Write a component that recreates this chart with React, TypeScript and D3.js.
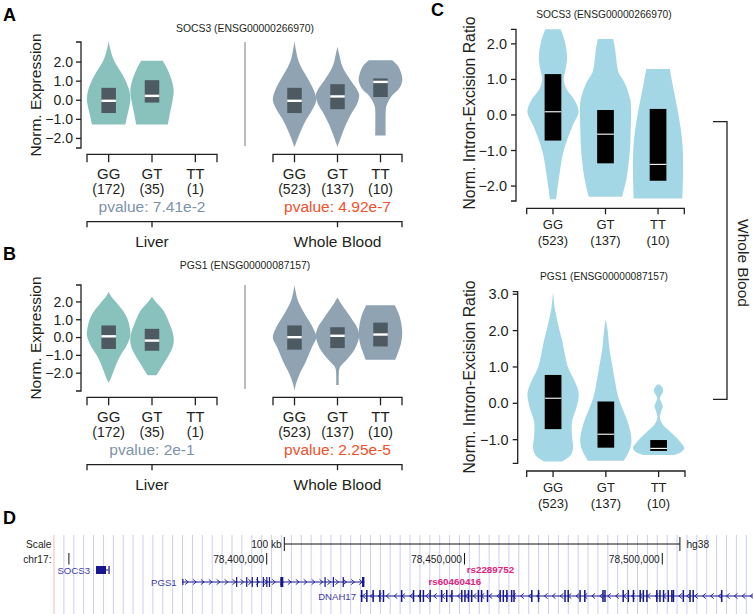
import React from "react";
import * as d3 from "d3";

type P = [number, number];
type Box = [number, number, number] | null;
const FONT = "'Liberation Sans', Arial, Helvetica, sans-serif";
const AXIS = "#231f20";

// ---------------- Panels A & B ----------------
const genotypes = ["GG", "GT", "TT"];
const tissues = ["Liver", "Whole Blood"];
const liverCounts = ["(172)", "(35)", "(1)"];
const bloodCounts = ["(523)", "(137)", "(10)"];
const exprTicks = [-2, -1, 0, 1, 2];
const socs3Title = "SOCS3 (ENSG00000266970)";
const pgs1Title = "PGS1 (ENSG00000087157)";
const socs3Pvalues = ["pvalue: 7.41e-2", "pvalue: 4.92e-7"];
const pgs1Pvalues = ["pvalue: 2e-1", "pvalue: 2.25e-5"];
const pvalueSignificant = [false, true];

// violin profiles: [value, relative half-width]
const socs3LiverViolins: (P[] | null)[] = [
  [[3.1, 0], [2.8, 0.05], [2.3, 0.17], [2.0, 0.28], [1.5, 0.55], [1.05, 0.77], [0.5, 0.95], [0, 1], [-0.7, 0.88], [-1.27, 0.77]],
  [[2.07, 0.5], [1.6, 0.72], [1.0, 0.92], [0.5, 1], [0, 0.95], [-0.55, 0.85], [-1.27, 0.73]],
  null,
];
const socs3BloodViolins: (P[] | null)[] = [
  [[3.07, 0], [2.6, 0.07], [2.1, 0.17], [1.5, 0.42], [1.0, 0.68], [0.5, 0.9], [0, 1], [-0.5, 0.82], [-1.0, 0.55], [-1.5, 0.33], [-2.0, 0.15], [-2.45, 0]],
  [[2.8, 0], [2.4, 0.08], [1.75, 0.23], [1.05, 0.6], [0.6, 0.88], [0.26, 1], [-0.2, 0.9], [-0.68, 0.65], [-1.3, 0.38], [-1.9, 0.17], [-2.45, 0]],
  [[2.1, 0.54], [1.8, 0.8], [1.3, 0.98], [1.0, 1.0], [0.6, 0.85], [0.2, 0.5], [-0.3, 0.27], [-0.6, 0.24], [-1.85, 0.24]],
];
const pgs1LiverViolins: (P[] | null)[] = [
  [[2.57, 0], [2.3, 0.12], [1.9, 0.4], [1.5, 0.66], [1.0, 0.88], [0.5, 0.98], [0.1, 1], [-0.4, 0.85], [-1.1, 0.5], [-1.9, 0.22], [-2.3, 0.1], [-2.54, 0]],
  [[2.29, 0], [2.0, 0.18], [1.5, 0.53], [0.7, 0.83], [0.2, 0.97], [-0.27, 1], [-0.7, 0.9], [-1.1, 0.72], [-1.5, 0.52], [-1.82, 0.36], [-2.12, 0.2]],
  null,
];
const pgs1BloodViolins: (P[] | null)[] = [
  [[2.95, 0], [2.6, 0.05], [2.1, 0.15], [1.35, 0.46], [0.58, 0.84], [0, 1], [-0.55, 0.8], [-1.3, 0.54], [-2.06, 0.23], [-2.6, 0.07], [-3.0, 0]],
  [[2.25, 0], [2.0, 0.12], [1.53, 0.38], [1.0, 0.68], [0.58, 0.9], [0.1, 1], [-0.55, 0.84], [-1.0, 0.6], [-1.3, 0.38], [-1.6, 0.15], [-1.8, 0.08], [-2.67, 0.06]],
  [[1.82, 0.66], [1.4, 0.82], [0.9, 0.94], [0.3, 1], [-0.3, 0.95], [-0.8, 0.82], [-1.25, 0.68]],
];
// boxes: [q1, median, q3]
const socs3LiverBoxes: Box[] = [[-0.67, -0.03, 0.65], [-0.12, 0.23, 1.05], null];
const socs3BloodBoxes: Box[] = [[-0.67, -0.03, 0.65], [-0.47, 0.2, 0.84], [0.17, 0.96, 1.14]];
const pgs1LiverBoxes: Box[] = [[-0.64, 0.07, 0.68], [-0.74, -0.17, 0.49], null];
const pgs1BloodBoxes: Box[] = [[-0.68, 0.02, 0.68], [-0.59, 0.1, 0.58], [-0.5, 0.17, 0.84]];

// ---------------- Panel C ----------------
const sqtlCounts = ["(523)", "(137)", "(10)"];
const sqtlSocs3Ticks = [-2, -1, 0, 1, 2];
const sqtlPgs1Ticks = [-1, 0, 1, 2, 3];
const sqtlSocs3Violins: P[][] = [
  [[2.41, 0.3], [2.1, 0.45], [1.64, 0.55], [1.3, 0.5], [0.99, 0.42], [0.7, 0.55], [0.44, 0.82], [0.1, 1], [-0.33, 0.75], [-1.0, 0.42], [-1.64, 0.26], [-2.1, 0.17], [-2.37, 0.12]],
  [[2.14, 0.3], [1.83, 0.38], [1.4, 0.45], [1.18, 0.52], [0.9, 0.75], [0.42, 0.97], [0, 1], [-0.5, 0.98], [-1.0, 0.95], [-1.75, 0.83], [-2.3, 0.65]],
  [[1.29, 0.46], [0.9, 0.56], [0.42, 0.69], [0, 0.8], [-0.7, 0.94], [-1.45, 0.98], [-2.35, 0.95]],
];
const sqtlPgs1Violins: P[][] = [
  [[3.07, 0], [2.7, 0.05], [2.49, 0.1], [2.1, 0.22], [1.74, 0.35], [1.0, 0.58], [0.6, 0.85], [0.28, 1], [-0.1, 0.92], [-0.5, 0.74], [-0.9, 0.74], [-1.25, 0.78], [-1.45, 0.66], [-1.6, 0.35]],
  [[2.31, 0], [2.0, 0.07], [1.5, 0.14], [1.0, 0.26], [0.6, 0.36], [0.18, 0.48], [-0.2, 0.68], [-0.55, 0.87], [-1.0, 1], [-1.3, 0.92], [-1.58, 0.7]],
  [[0.52, 0.03], [0.45, 0.14], [0.34, 0.18], [0.22, 0.1], [0.14, 0.05], [0.04, 0.1], [-0.09, 0.16], [-0.22, 0.1], [-0.41, 0.05], [-0.6, 0.18], [-0.74, 0.39], [-1.01, 0.78], [-1.24, 1], [-1.35, 0.85], [-1.42, 0.6]],
];
const sqtlSocs3Boxes: Box[] = [[-0.72, 0.09, 1.15], [-1.36, -0.54, 0.14], [-1.85, -1.39, 0.17]];
const sqtlPgs1Boxes: Box[] = [[-0.71, 0.14, 0.78], [-1.22, -0.85, 0.05], [-1.31, -1.24, -1.01]];

// ---------------- Panel D (genome browser) ----------------
const genomeOrigin = 78400000; // kb offsets below are relative to this
const trackStartKb = -53.77;
const trackEndKb = 123.0;
const guideSpacingKb = 2.5;
const positionTicks = [78350000, 78400000, 78450000, 78500000];
const scaleBarStartKb = 4.45;
const scaleBarKb = 100;
const socs3GeneKb = [-43.15, -39.94];
const socs3ExonsKb: [number, number, number][] = [[-43.15, -40.62, 1], [-40.0, -39.85, 1]];
const pgs1GeneKb = [-21.23, 24.7];
const pgs1ExonsKb: [number, number, number][] = [
  [-21.35, -21.1, 0], [-7.75, -7.45, 1], [-5.2, -4.95, 1], [-3.8, -3.5, 1], [-2.5, -2.25, 1],
  [-1.0, -0.75, 1], [-0.12, 0.12, 1], [0.55, 0.8, 1], [3.45, 4.2, 1], [14.6, 14.9, 1],
  [16.7, 17.0, 1], [19.2, 19.5, 1], [24.1, 24.7, 1],
];
const dnah17GeneKb = [23.6, 130];
const dnah17ExonCentersKb = [
  24.0, 25.3, 26.9, 28.6, 29.5, 34.1, 37.1, 38.8, 39.6, 41.3, 44.2, 45.5, 46.8, 49.3, 50.1, 51.0,
  51.8, 53.5, 54.3, 55.8, 59.0, 59.8, 60.7, 61.9, 62.5, 67.0, 68.7, 75.4, 76.2, 79.2, 80.4, 85.0,
  85.5, 90.1, 91.4, 92.7, 94.4, 95.2, 96.1, 98.6, 99.4, 100.3, 101.5, 102.4, 102.8, 105.3, 107.0,
  107.8, 115.0,
];
const snps = [
  { name: "rs2289752", kb: 63.3 },
  { name: "rs60460416", kb: 55.0 },
];

const LIVER_FILL = "#89c1bd";
const BLOOD_FILL = "#8fa3b3";
const BOX_FILL = "#4e5a61";
const SQTL_FILL = "#a3d7e6";
const PV_NS = "#7d93aa";
const PV_SIG = "#f0502b";

function violinPath(profile: P[], cx: number, y: d3.ScaleLinear<number, number>, maxW: number) {
  const area = d3
    .area<P>()
    .curve(d3.curveCatmullRom.alpha(0.5))
    .y((d) => y(d[0]))
    .x0((d) => cx - d[1] * maxW)
    .x1((d) => cx + d[1] * maxW);
  return area(profile) || "";
}

function YAxis({ x, y, ticks, tickLen = 5, fs = 13, labelGap = 3 }: any) {
  const [r0, r1] = y.range();
  return (
    <g>
      <path d={`M${x - tickLen},${r0}H${x}V${r1}H${x - tickLen}`} fill="none" stroke={AXIS} strokeWidth={1.3} />
      {ticks.map((t: number) => (
        <g key={t}>
          <line x1={x - tickLen} x2={x} y1={y(t)} y2={y(t)} stroke={AXIS} strokeWidth={1.3} />
          <text x={x - tickLen - labelGap} y={y(t)} dy="0.35em" textAnchor="end" fontSize={fs} fill={AXIS}>
            {d3.format(".1f")(t)}
          </text>
        </g>
      ))}
    </g>
  );
}

function GroupAxis({ xs, yPos, tickLen }: any) {
  const [a, b] = xs.range();
  return (
    <g>
      <path d={`M${a},${yPos + tickLen}V${yPos}H${b}V${yPos + tickLen}`} fill="none" stroke={AXIS} strokeWidth={1.3} />
      {genotypes.map((g) => {
        const cx = xs(g) + xs.bandwidth() / 2;
        return <line key={g} x1={cx} x2={cx} y1={yPos} y2={yPos + tickLen} stroke={AXIS} strokeWidth={1.3} />;
      })}
    </g>
  );
}

function ExprPanel(props: any) {
  const { dy, letter, letterY, title, titleY, domain, liverV, bloodV, liverB, bloodB, pvals } = props;
  const y = d3.scaleLinear().domain(domain).range([148 + dy, 42 + dy]);
  const xL = d3.scaleBand().domain(genotypes).range([87, 217]);
  const xB = d3.scaleBand().domain(genotypes).range([273, 402]);
  const maxW = 21.7;
  const boxW = 14.5;
  const groups = [
    { xs: xL, v: liverV, b: liverB, fill: LIVER_FILL, counts: liverCounts },
    { xs: xB, v: bloodV, b: bloodB, fill: BLOOD_FILL, counts: bloodCounts },
  ];
  const centers = groups.map((g) => (g.xs.range()[0] + g.xs.range()[1]) / 2);
  const brY = 221.7 + dy;
  return (
    <g>
      <text x={3} y={letterY} fontSize={18} fontWeight="bold" fill="#000">{letter}</text>
      <text x={245} y={titleY} textAnchor="middle" fontSize={10.4} fill={AXIS}>{title}</text>
      <text transform={`translate(40.5,${95 + dy}) rotate(-90)`} textAnchor="middle" fontSize={15.5} fill={AXIS}>
        Norm. Expression
      </text>
      <YAxis x={81} y={y} ticks={exprTicks} fs={14} />
      <line x1={245} x2={245} y1={42 + dy} y2={146 + dy} stroke="#9a9a9a" strokeWidth={1.3} />
      {groups.map((grp, gi) => (
        <g key={gi}>
          {genotypes.map((g, i) => {
            const cx = grp.xs(g)! + grp.xs.bandwidth() / 2;
            const prof = grp.v[i];
            const box = grp.b[i];
            return (
              <g key={g}>
                {prof && <path d={violinPath(prof, cx, y, maxW)} fill={grp.fill} />}
                {box && (
                  <g>
                    <rect x={cx - boxW / 2} width={boxW} y={y(box[2])} height={y(box[0]) - y(box[2])} fill={BOX_FILL} />
                    <line x1={cx - boxW / 2} x2={cx + boxW / 2} y1={y(box[1])} y2={y(box[1])} stroke="#fff" strokeWidth={2.4} />
                  </g>
                )}
                <text x={cx} y={178.5 + dy} textAnchor="middle" fontSize={15} fill={AXIS}>{g}</text>
                <text x={cx} y={194 + dy} textAnchor="middle" fontSize={14} fill={AXIS}>{grp.counts[i]}</text>
              </g>
            );
          })}
          <GroupAxis xs={grp.xs} yPos={154.3 + dy} tickLen={8} />
          <text x={centers[gi]} y={212 + dy} textAnchor="middle" fontSize={15.5} fill={pvalueSignificant[gi] ? PV_SIG : PV_NS}>
            {pvals[gi]}
          </text>
          <text x={centers[gi]} y={246.5 + dy} textAnchor="middle" fontSize={15.5} fill={AXIS}>{tissues[gi]}</text>
        </g>
      ))}
      <path d={`M87,${brY + 5.5}V${brY}H402V${brY + 5.5}`} fill="none" stroke={AXIS} strokeWidth={1.3} />
      {centers.map((c, i) => (
        <line key={i} x1={c} x2={c} y1={brY} y2={brY + 5.5} stroke={AXIS} strokeWidth={1.3} />
      ))}
    </g>
  );
}

function SqtlPanel(props: any) {
  const { title, titleY, axisX, yRange, domain, ticks, xRange, xAxisY, violins, boxes, labelY, yLabelY } = props;
  const y = d3.scaleLinear().domain(domain).range(yRange);
  const xs = d3.scaleBand().domain(genotypes).range(xRange);
  const maxW = 25.6;
  const boxW = 16.7;
  return (
    <g>
      <text x={604} y={titleY} textAnchor="middle" fontSize={10.2} fill={AXIS}>{title}</text>
      <text transform={`translate(475,${yLabelY}) rotate(-90)`} textAnchor="middle" fontSize={15.8} fill={AXIS}>
        Norm. Intron-Excision Ratio
      </text>
      {genotypes.map((g, i) => {
        const cx = xs(g)! + xs.bandwidth() / 2;
        const box = boxes[i];
        return (
          <g key={g}>
            <path d={violinPath(violins[i], cx, y, maxW)} fill={SQTL_FILL} />
            {box && (
              <g>
                <rect x={cx - boxW / 2} width={boxW} y={y(box[2])} height={y(box[0]) - y(box[2])} fill="#000" />
                <line x1={cx - boxW / 2} x2={cx + boxW / 2} y1={y(box[1])} y2={y(box[1])} stroke="#fff" strokeWidth={1.1} />
              </g>
            )}
            <text x={cx} y={labelY} textAnchor="middle" fontSize={13} fill={AXIS}>{g}</text>
            <text x={cx} y={labelY + 15.5} textAnchor="middle" fontSize={13} fill={AXIS}>{sqtlCounts[i]}</text>
          </g>
        );
      })}
      <YAxis x={axisX} y={y} ticks={ticks} tickLen={5} fs={14.5} labelGap={4} />
      <GroupAxis xs={xs} yPos={xAxisY} tickLen={6} />
    </g>
  );
}

function BrowserPanel() {
  const gx = d3
    .scaleLinear()
    .domain([78350000, 78500000])
    .range([68.9, 662.3]);
  const kx = (kb: number) => gx(genomeOrigin + kb * 1000);
  const left = kx(trackStartKb);
  const guides = d3.range(trackStartKb, trackEndKb, guideSpacingKb);
  const fmt = d3.format(",");
  const geneColor = "#161690";
  const labelColor = "#3c3ca4";
  const chevrons = (g: number[], dir: number, yy: number) =>
    d3.range(g[0] + 1, Math.min(g[1], trackEndKb), 2).map((k) => {
      const x = kx(k);
      return (
        <path key={k} d={`M${x - 1.6 * dir},${yy - 2.6}L${x + 1.6 * dir},${yy}L${x - 1.6 * dir},${yy + 2.6}`} fill="none" stroke={geneColor} strokeWidth={0.9} />
      );
    });
  const sbA = kx(scaleBarStartKb);
  const sbB = kx(scaleBarStartKb + scaleBarKb);
  const pgsY = 582;
  const dnaY = 596;
  const socY = 570;
  return (
    <g>
      <text x={3} y={524} fontSize={18} fontWeight="bold" fill="#000">D</text>
      <defs>
        <clipPath id="trackClip">
          <rect x={left} y={530} width={753 - left} height={90} />
        </clipPath>
      </defs>
      {guides.map((k, i) => (
        <line key={k} x1={kx(k)} x2={kx(k)} y1={535} y2={614} stroke={i === 0 ? "#f3b9c9" : "#cdcdf3"} strokeWidth={1} />
      ))}
      <text x={51.5} y={547.5} textAnchor="end" fontSize={10.2} fill="#222">Scale</text>
      <text x={51.5} y={563} textAnchor="end" fontSize={10.2} fill="#222">chr17:</text>
      <path d={`M${sbA},537V551M${sbA},544H${sbB}M${sbB},537V551`} stroke="#111" strokeWidth={1} fill="none" />
      <text x={sbA - 2.5} y={547.5} textAnchor="end" fontSize={10.2} fill="#222">{`${scaleBarKb} kb`}</text>
      <text x={sbB + 6.5} y={547.5} fontSize={10.2} fill="#222">hg38</text>
      {positionTicks.map((p) => {
        const x = gx(p);
        return (
          <g key={p}>
            <line x1={x} x2={x} y1={553} y2={564.5} stroke="#111" strokeWidth={1} />
            {x - 55 > left && (
              <text x={x - 2.5} y={563} textAnchor="end" fontSize={10.2} fill="#222">{fmt(p)}</text>
            )}
          </g>
        );
      })}
      {/* SOCS3 */}
      <text x={kx(socs3GeneKb[0]) - 6} y={socY + 3.5} textAnchor="end" fontSize={9.6} fill={labelColor}>SOCS3</text>
      <line x1={kx(socs3GeneKb[0])} x2={kx(socs3GeneKb[1])} y1={socY} y2={socY} stroke={geneColor} strokeWidth={1} />
      {socs3ExonsKb.map((e, i) => (
        <rect key={i} x={kx(e[0])} y={socY - 4} width={Math.max(1.2, kx(e[1]) - kx(e[0]))} height={8} fill={geneColor} />
      ))}
      {/* PGS1 */}
      <text x={kx(pgs1GeneKb[0]) - 6} y={pgsY + 3.5} textAnchor="end" fontSize={9.6} fill={labelColor}>PGS1</text>
      <line x1={kx(pgs1GeneKb[0])} x2={kx(pgs1GeneKb[1])} y1={pgsY} y2={pgsY} stroke={geneColor} strokeWidth={1} />
      {chevrons(pgs1GeneKb, 1, pgsY)}
      {pgs1ExonsKb.map((e, i) => {
        const h = e[2] ? 10 : 6;
        return <rect key={i} x={kx(e[0])} y={pgsY - h / 2} width={Math.max(1.2, kx(e[1]) - kx(e[0]))} height={h} fill={geneColor} />;
      })}
      {/* SNP labels */}
      {snps.map((s) => (
        <text key={s.name} x={kx(s.kb) - 3} y={s.name === "rs2289752" ? 572.5 : 584.5} textAnchor="end" fontSize={9.8} fontWeight="bold" fill="#e0227c">
          {s.name}
        </text>
      ))}
      {/* DNAH17 */}
      <text x={kx(dnah17GeneKb[0]) - 4} y={dnaY + 3.5} textAnchor="end" fontSize={9.6} fill={labelColor}>DNAH17</text>
      <g clipPath="url(#trackClip)">
        <line x1={kx(dnah17GeneKb[0])} x2={kx(dnah17GeneKb[1])} y1={dnaY} y2={dnaY} stroke={geneColor} strokeWidth={1} />
        {chevrons(dnah17GeneKb, -1, dnaY)}
        {dnah17ExonCentersKb.map((c, i) => (
          <rect key={i} x={kx(c) - 0.7} y={dnaY - 6} width={1.5} height={12} fill={geneColor} />
        ))}
      </g>
    </g>
  );
}

export default function App() {
  return (
    <svg
      width={753}
      height={614}
      viewBox="0 0 753 614"
      style={{ position: "absolute", left: 0, top: 0, display: "block", background: "#fff" }}
      fontFamily={FONT}
    >
      <rect width={753} height={614} fill="#fff" />
      <ExprPanel
        dy={0}
        letter="A"
        letterY={20.7}
        title={socs3Title}
        titleY={31.8}
        domain={[-2.5, 3.05]}
        liverV={socs3LiverViolins}
        bloodV={socs3BloodViolins}
        liverB={socs3LiverBoxes}
        bloodB={socs3BloodBoxes}
        pvals={socs3Pvalues}
      />
      <ExprPanel
        dy={243}
        letter="B"
        letterY={260}
        title={pgs1Title}
        titleY={269}
        domain={[-3.0, 2.95]}
        liverV={pgs1LiverViolins}
        bloodV={pgs1BloodViolins}
        liverB={pgs1LiverBoxes}
        bloodB={pgs1BloodBoxes}
        pvals={pgs1Pvalues}
      />
      <text x={431} y={16} fontSize={18} fontWeight="bold" fill="#000">C</text>
      <SqtlPanel
        title={socs3Title}
        titleY={17.5}
        axisX={516}
        yRange={[201, 29.3]}
        domain={[-2.42, 2.41]}
        ticks={sqtlSocs3Ticks}
        xRange={[526.7, 684.3]}
        xAxisY={208.3}
        violins={sqtlSocs3Violins}
        boxes={sqtlSocs3Boxes}
        labelY={229}
        yLabelY={113}
      />
      <SqtlPanel
        title={pgs1Title}
        titleY={279.5}
        axisX={517.7}
        yRange={[463.3, 291.7]}
        domain={[-1.65, 3.07]}
        ticks={sqtlPgs1Ticks}
        xRange={[526.7, 685]}
        xAxisY={471}
        violins={sqtlPgs1Violins}
        boxes={sqtlPgs1Boxes}
        labelY={492}
        yLabelY={377}
      />
      <path d="M713,121.7H727V399.3H713" fill="none" stroke={AXIS} strokeWidth={1.3} />
      <text transform="translate(737.5,263) rotate(90)" textAnchor="middle" fontSize={15.5} fill={AXIS}>
        Whole Blood
      </text>
      <BrowserPanel />
    </svg>
  );
}
